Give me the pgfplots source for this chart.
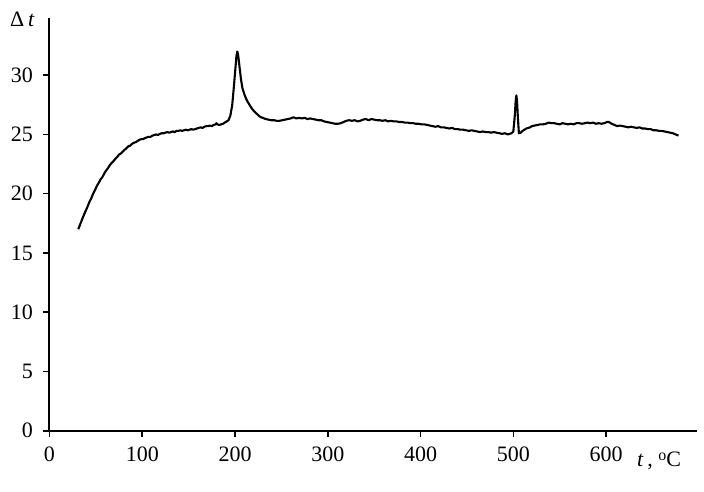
\documentclass[border=0pt]{standalone}
\usepackage{fontspec}
\setmainfont{Liberation Serif}
\usepackage{pgfplots}
\pgfplotsset{compat=1.18}
\begin{document}
\begin{tikzpicture}
\begin{axis}[
  scale only axis, width=647.5pt, height=412.4pt,
  xmin=0, xmax=698, ymin=0, ymax=34.8,
  axis lines*=left, clip=false,
  axis line style={line width=2pt, black},
  xtick={0,100,...,600}, ytick={0,5,...,30},
  tick align=outside, major tick length=6pt,
  tick style={line width=1.6pt, black},
  ticklabel style={font=\fontsize{22}{24}\selectfont},
  /pgf/number format/assume math mode=true,
  xticklabel style={yshift=-7pt},
  yticklabel style={xshift=-7pt},
]
\addplot[black, line width=2.1pt, line join=round] coordinates {
(31,17.0)(33,17.4)(35,17.8)(37,18.2)(39,18.55)(41,18.9)(43,19.3)(45,19.6)(47,20.0)(49,20.3)
(51,20.65)(53,20.9)(55,21.2)(57,21.4)(59,21.7)(61,21.95)(63,22.15)(65,22.4)(67,22.6)(69,22.75)
(71,22.95)(73,23.1)(75,23.3)(77,23.4)(79,23.55)(81,23.7)(83,23.85)(85,24.0)(87,24.05)(89,24.2)
(91,24.3)(93,24.35)(95,24.45)(97,24.55)(99,24.6)(101,24.6)(103,24.7)(105,24.75)(107,24.8)(109,24.8)
(111,24.9)(113,24.95)(115,25.0)(117,24.95)(119,25.05)(121,25.1)(123,25.1)(125,25.15)(127,25.2)(129,25.15)
(131,25.2)(133,25.25)(135,25.2)(137,25.3)(139,25.3)(141,25.35)(143,25.3)(145,25.35)(147,25.4)(149,25.35)
(151,25.4)(153,25.45)(155,25.4)(157,25.45)(159,25.5)(161,25.55)(163,25.6)(165,25.55)(167,25.65)(169,25.7)
(171,25.7)(173,25.75)(175,25.7)(177,25.8)(179,25.85)(180,25.95)(181,25.85)(183,25.8)(185,25.85)(187,25.9)
(189,26.0)(191,26.1)(193,26.2)(195,26.6)(197,27.5)(198.5,28.8)(200,30.2)(201.5,31.6)(202.5,32.0)(203.5,31.6)
(205,30.6)(206.5,29.6)(208,28.9)(210,28.4)(212,28.0)(214,27.7)(216,27.45)(218,27.2)(220,27.0)(222,26.85)
(224,26.7)(226,26.55)(228,26.45)(230,26.4)(233,26.3)(236,26.25)(239,26.2)(242,26.2)(245,26.15)(248,26.15)
(251,26.2)(254,26.25)(257,26.3)(260,26.35)(263,26.45)(266,26.35)(269,26.4)(272,26.35)(275,26.4)(278,26.3)
(281,26.35)(284,26.3)(287,26.25)(290,26.2)(293,26.2)(296,26.1)(299,26.05)(302,26.0)(305,25.95)(308,25.9)
(311,25.9)(314,25.95)(317,26.05)(320,26.15)(323,26.2)(326,26.15)(329,26.2)(332,26.1)(335,26.15)(338,26.25)
(341,26.3)(344,26.2)(347,26.3)(350,26.25)(353,26.2)(356,26.2)(359,26.15)(362,26.2)(365,26.1)(368,26.15)
(371,26.1)(374,26.1)(377,26.05)(380,26.05)(383,26.0)(386,26.0)(389,25.95)(392,25.95)(395,25.9)(398,25.9)
(401,25.85)(404,25.85)(407,25.8)(410,25.75)(413,25.7)(416,25.65)(419,25.7)(422,25.6)(425,25.6)(428,25.55)
(431,25.5)(434,25.55)(437,25.45)(440,25.45)(443,25.4)(446,25.4)(449,25.35)(452,25.3)(455,25.35)(458,25.3)
(461,25.25)(464,25.2)(467,25.25)(470,25.2)(473,25.2)(476,25.15)(479,25.2)(482,25.15)(485,25.1)(488,25.05)
(491,25.1)(494,25.0)(496,25.05)(498,25.1)(500,25.25)(501.5,26.5)(502.5,27.8)(503.3,28.3)(504,27.8)(505,26.3)
(506,25.1)(508,25.15)(510,25.3)(512,25.4)(514,25.5)(516,25.55)(518,25.6)(520,25.7)(523,25.75)(526,25.8)
(529,25.85)(532,25.85)(535,25.9)(538,26.0)(541,25.95)(544,25.95)(547,25.9)(550,25.85)(553,25.95)(556,25.9)
(559,25.85)(562,25.9)(565,25.85)(568,25.95)(571,25.95)(574,25.9)(577,25.95)(580,26.0)(583,25.95)(586,26.0)
(589,25.9)(592,25.95)(595,25.9)(598,25.95)(601,26.05)(603,26.05)(606,25.9)(609,25.8)(612,25.7)(615,25.75)
(618,25.7)(621,25.65)(624,25.6)(627,25.65)(630,25.6)(633,25.55)(636,25.6)(639,25.5)(642,25.5)(645,25.45)
(648,25.45)(651,25.35)(654,25.35)(657,25.3)(660,25.3)(663,25.25)(666,25.2)(669,25.15)(672,25.1)(675,25.0)
(678,24.9)
};
\node[anchor=base west, inner sep=0pt, font=\fontsize{22}{24}\selectfont] at (axis description cs:-0.061,0.979) {Δ\,\textit{t}};
\node[anchor=base west, inner sep=0pt, font=\fontsize{22}{24}\selectfont] at (axis description cs:0.9073,-0.088) {\textit{t}\,, \raisebox{0.62ex}{\fontsize{16}{16}\selectfont o}C};
\path (axis description cs:-0.07645,-0.14622) rectangle (axis description cs:1.0108,1.04437);
\end{axis}
\end{tikzpicture}
\end{document}
